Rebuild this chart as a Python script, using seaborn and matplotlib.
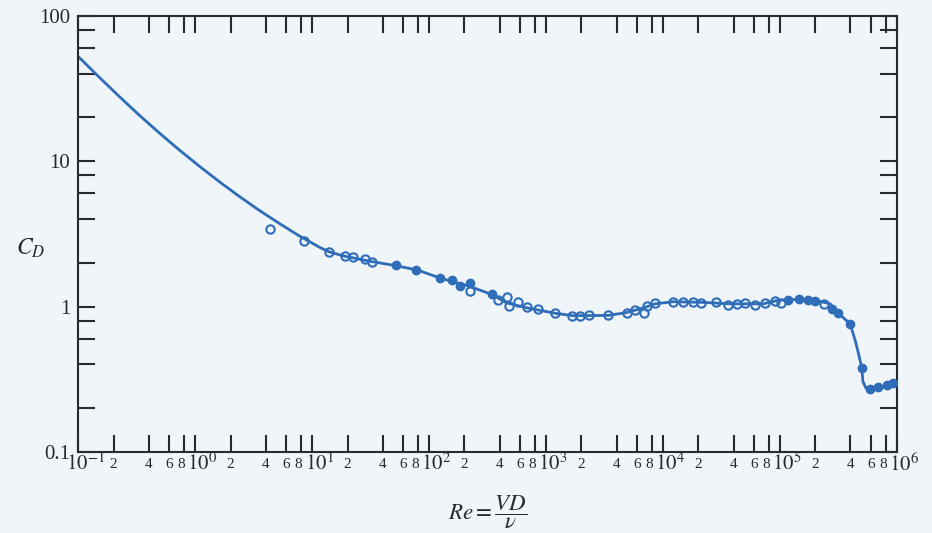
import numpy as np
import pandas as pd
import seaborn as sns
import matplotlib.pyplot as plt
import matplotlib.transforms as mtransforms
from matplotlib.ticker import FixedLocator, FixedFormatter, NullFormatter

# fitted curve C_D(Re)
curve_re = [0.1, 0.1498, 0.222, 0.329, 0.488, 0.724, 1.074, 1.592, 2.36, 3.50, 5.19, 7.69,
            11.6, 13.9, 18.9, 30, 50, 80, 124,
            226, 343, 460, 682, 1190, 1700, 3400, 4890, 6790, 8550, 12250, 20700, 37500,
            72100, 93900, 139000, 193000, 268000, 316000, 398000, 438000, 468000, 501000,
            511000, 543000, 609000, 766000, 1000000]
curve_cd = [52.2, 37.9, 27.95, 20.8, 15.7, 11.98, 9.27, 7.25, 5.74, 4.60, 3.74, 3.07,
            2.55, 2.38, 2.22, 2.06, 1.92, 1.78, 1.57,
            1.37, 1.21, 1.06, 0.98, 0.90, 0.865, 0.87, 0.91, 0.98, 1.045, 1.08, 1.07, 1.045,
            1.045, 1.10, 1.12, 1.11, 1.045, 0.90, 0.76, 0.59, 0.479, 0.377,
            0.306, 0.275, 0.268, 0.28, 0.306]

# measured points, open symbols
open_re = [4.35, 8.5, 13.9, 18.9, 22.4, 28.3, 32.6, 223, 390, 460, 484, 571, 690, 847, 1190,
           1675, 1950, 2340, 3410, 4890, 5760, 6870, 7340, 8550, 12250, 14900, 17950, 21000,
           28400, 36200, 43200, 50300, 61200, 74600, 90800, 101500, 238000]
open_cd = [3.43, 2.84, 2.38, 2.23, 2.19, 2.12, 2.04, 1.27, 1.11, 1.17, 1.01, 1.07, 0.99, 0.96, 0.91,
           0.865, 0.865, 0.87, 0.87, 0.90, 0.95, 0.90, 1.01, 1.06, 1.08, 1.08, 1.08, 1.06,
           1.07, 1.03, 1.04, 1.06, 1.03, 1.05, 1.10, 1.05, 1.04]

# measured points, filled symbols
filled_re = [52, 76.6, 124, 156, 183, 223, 347, 118000, 144000, 175000, 200000, 277000,
             316000, 398000, 501000, 590000, 695000, 820000, 934000]
filled_cd = [1.92, 1.79, 1.57, 1.53, 1.39, 1.45, 1.22, 1.11, 1.12, 1.11, 1.10, 0.96,
             0.90, 0.76, 0.377, 0.272, 0.28, 0.29, 0.30]

decades_x = [-1, 0, 1, 2, 3, 4, 5, 6]
y_major = [0.1, 1, 10, 100]
y_major_labels = ['0.1', '1', '10', '100']
minor_digits = [2, 4, 6, 8]

blue = '#2f6db8'
bg = '#eff5f9'
ink = '#2a2a2a'

sns.set_style('ticks')
plt.rcParams['font.family'] = ['Liberation Serif', 'DejaVu Serif']
plt.rcParams['mathtext.fontset'] = 'stix'

fig = plt.figure(figsize=(9.32, 5.33), dpi=100, facecolor=bg)
ax = fig.add_axes([0.0842, 0.152, 0.8782, 0.8185])
ax.set_facecolor(bg)

sns.lineplot(x=curve_re, y=curve_cd, ax=ax, color=blue, linewidth=2, sort=False,
             estimator=None, zorder=2)
sns.lineplot(x=open_re, y=open_cd, ax=ax, color=blue, linestyle='', marker='o',
             markersize=6, markerfacecolor='none', markeredgecolor=blue,
             markeredgewidth=1.5, estimator=None, sort=False, zorder=3)
sns.lineplot(x=filled_re, y=filled_cd, ax=ax, color=blue, linestyle='', marker='o',
             markersize=6, markerfacecolor=blue, markeredgecolor=blue,
             markeredgewidth=1.0, estimator=None, sort=False, zorder=3)

ax.set_xscale('log')
ax.set_yscale('log')
ax.set_xlim(0.1, 1e6)
ax.set_ylim(0.1, 100)

# x ticks: decades labelled 10^n, plus 2,4,6,8 in each decade
ax.xaxis.set_major_locator(FixedLocator([10.0 ** d for d in decades_x]))
ax.xaxis.set_major_formatter(FixedFormatter([f'$10^{{{d}}}$' for d in decades_x]))
x_minor = [k * 10.0 ** d for d in decades_x[:-1] for k in minor_digits]
ax.xaxis.set_minor_locator(FixedLocator(x_minor))
ax.xaxis.set_minor_formatter(FixedFormatter([str(k) for d in decades_x[:-1] for k in minor_digits]))

ax.yaxis.set_major_locator(FixedLocator(y_major))
ax.yaxis.set_major_formatter(FixedFormatter(y_major_labels))
y_minor = [k * 10.0 ** d for d in [-1, 0, 1] for k in minor_digits]
ax.yaxis.set_minor_locator(FixedLocator(y_minor))
ax.yaxis.set_minor_formatter(NullFormatter())

ax.tick_params(which='both', direction='in', top=True, right=True, length=12, width=1.5,
               color=ink, labelcolor=ink)
ax.tick_params(axis='x', which='major', labelsize=15, pad=1)
ax.tick_params(axis='x', which='minor', labelsize=11, pad=4)
ax.tick_params(axis='y', which='major', labelsize=15, pad=6)

for s in ax.spines.values():
    s.set_color(ink)
    s.set_linewidth(1.5)

ax.set_ylabel('$C_D$', fontsize=17, rotation=0, color=ink)
ax.yaxis.set_label_coords(-0.058, 0.44)
ax.set_xlabel(r'$Re = \dfrac{VD}{\nu}$', fontsize=16.5, color=ink, labelpad=13)

# nudge labels like the printed scale: decades a bit right, the 8s a bit left
shift_right = mtransforms.ScaledTranslation(7 / 100, 0, fig.dpi_scale_trans)
shift_left = mtransforms.ScaledTranslation(-2.5 / 100, 0, fig.dpi_scale_trans)
for lab in ax.xaxis.get_majorticklabels():
    lab.set_transform(lab.get_transform() + shift_right)
for i, lab in enumerate(ax.xaxis.get_minorticklabels()):
    if i % 4 == 3:
        lab.set_transform(lab.get_transform() + shift_left)

fig.savefig('out.png', dpi=100, facecolor=bg)
